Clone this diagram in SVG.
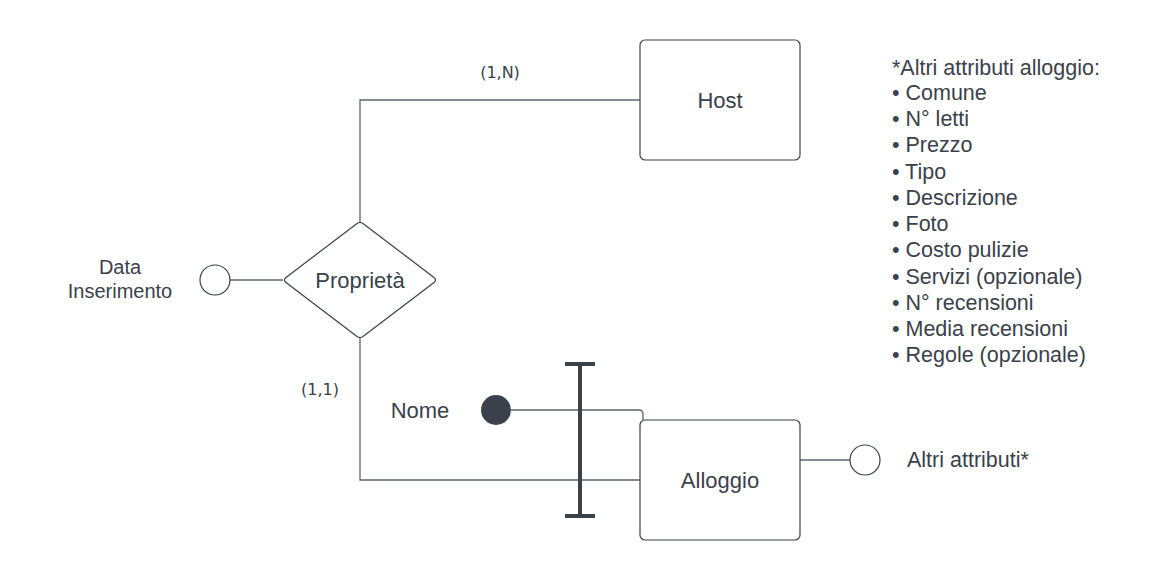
<svg xmlns="http://www.w3.org/2000/svg" width="1160" height="580" viewBox="0 0 1160 580">
<style>
text{font-family:"Liberation Sans",Arial,sans-serif;fill:#3a414a}
.ent{fill:#fff;stroke:#3a414a;stroke-width:1.2}
.conn{fill:none;stroke:#5e6670;stroke-width:1.3}
.attr{fill:#fff;stroke:#3a414a;stroke-width:1.2}
.lbl{font-size:22px}
.lst{font-size:21.5px}
.sm{font-size:16px;font-family:"DejaVu Sans",sans-serif}
.md{font-size:20px}
</style>
<rect width="1160" height="580" fill="#fff"/>
<g id="connectors">
<path class="conn" d="M640,100 H360 V222"/>
<path class="conn" d="M360,338 V480 H640"/>
<path class="conn" d="M230,280 H283"/>
<path class="conn" d="M511,410 H639 Q643,410 643,414 V420"/>
<path class="conn" d="M800,460 H850"/>
</g>
<g id="host">
<rect class="ent" x="640" y="40" width="160" height="120" rx="5"/>
<text class="lbl" x="720" y="108" text-anchor="middle">Host</text>
</g>
<g id="proprieta">
<path class="ent" d="M357,223.5 Q360,221.5 363,223.5 L434,277.5 Q437,280 434,282.5 L363,336.5 Q360,338.5 357,336.5 L286,282.5 Q283,280 286,277.5 Z"/>
<text class="lbl" x="360" y="288" text-anchor="middle">Proprietà</text>
</g>
<g id="alloggio">
<rect class="ent" x="640" y="420" width="160" height="120" rx="5"/>
<text class="lbl" x="720" y="488" text-anchor="middle">Alloggio</text>
</g>
<g id="data-inserimento">
<circle class="attr" cx="215" cy="280" r="15"/>
<text class="md" x="120" y="274" text-anchor="middle">Data</text>
<text class="md" x="120" y="298" text-anchor="middle">Inserimento</text>
</g>
<g id="nome">
<circle cx="496" cy="410" r="15" fill="#3a414a"/>
<text class="lbl" x="420" y="418" text-anchor="middle">Nome</text>
</g>
<g id="identificatore">
<rect x="578" y="362" width="4" height="156" fill="#3a414a"/>
<rect x="565" y="362" width="30" height="4" fill="#3a414a"/>
<rect x="565" y="514" width="30" height="4" fill="#3a414a"/>
</g>
<g id="altri-attributi">
<circle class="attr" cx="865" cy="460" r="15"/>
<text class="lst" x="907" y="467">Altri attributi*</text>
</g>
<g id="cardinalita">
<text class="sm" x="500" y="78" text-anchor="middle">(1,N)</text>
<text class="sm" x="320" y="395" text-anchor="middle">(1,1)</text>
</g>
<g id="nota">
<text class="lst" x="892" y="75">*Altri attributi alloggio:</text>
<text class="lst" x="892" y="100">• Comune</text>
<text class="lst" x="892" y="126">• N° letti</text>
<text class="lst" x="892" y="152">• Prezzo</text>
<text class="lst" x="892" y="179">• Tipo</text>
<text class="lst" x="892" y="205">• Descrizione</text>
<text class="lst" x="892" y="231">• Foto</text>
<text class="lst" x="892" y="257">• Costo pulizie</text>
<text class="lst" x="892" y="284">• Servizi (opzionale)</text>
<text class="lst" x="892" y="310">• N° recensioni</text>
<text class="lst" x="892" y="336">• Media recensioni</text>
<text class="lst" x="892" y="362">• Regole (opzionale)</text>
</g>
</svg>
